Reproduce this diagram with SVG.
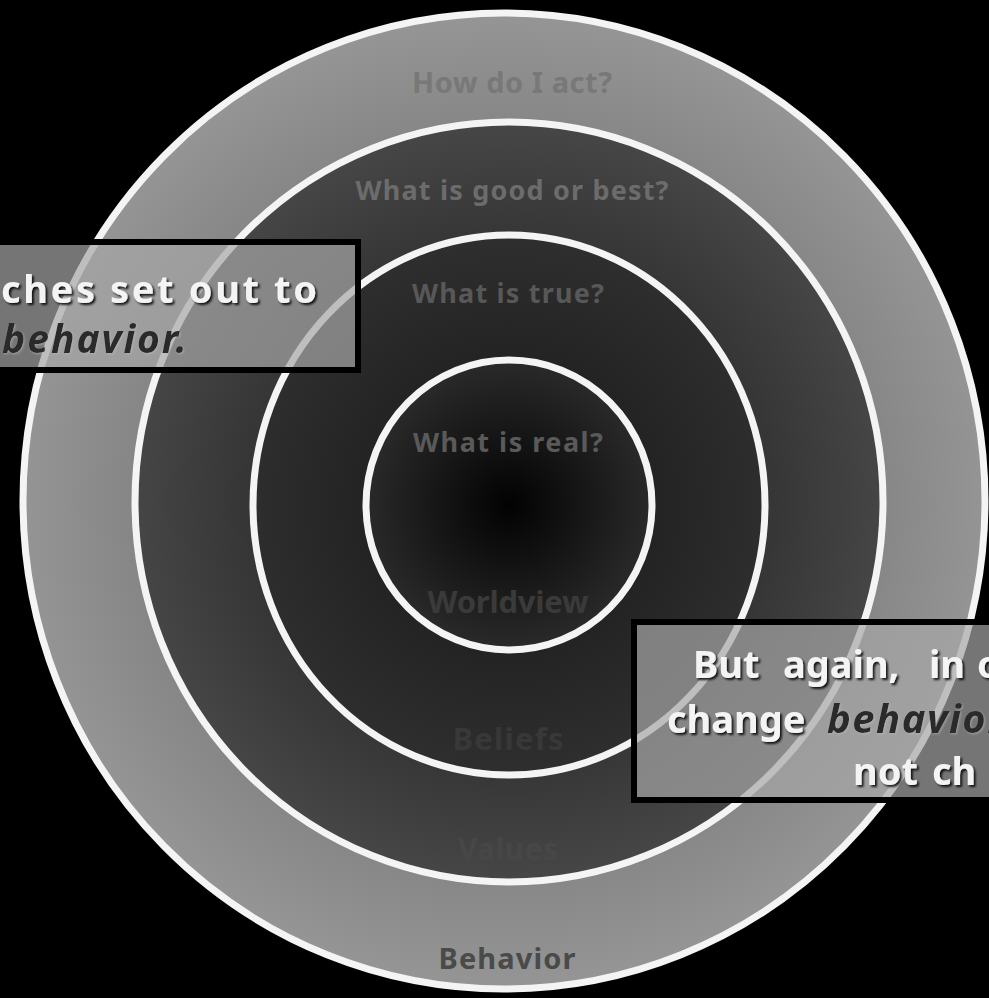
<svg xmlns="http://www.w3.org/2000/svg" width="989" height="998" viewBox="0 0 989 998">
  <style>
    .ring { stroke: #f4f4f4; stroke-width: 7; }
    .lbl { font-family: "Noto Sans", "DejaVu Sans", sans-serif; font-weight: bold; text-anchor: middle; }
    .box { stroke: #000; stroke-width: 6; fill: #a6a6a6; fill-opacity: 0.7; }
    .wt { font-family: "Noto Sans", "DejaVu Sans", sans-serif; font-weight: bold; fill: #f4f4f4; filter: url(#sh); }
    .dk { font-family: "Noto Sans", "DejaVu Sans", sans-serif; font-weight: bold; font-style: italic; fill: #2a2a2a; filter: url(#sh2); }
  </style>
  <defs>
    <radialGradient id="g1" cx="504" cy="501" r="485" gradientUnits="userSpaceOnUse">
      <stop offset="0.75" stop-color="#858585"/>
      <stop offset="1" stop-color="#959595"/>
    </radialGradient>
    <radialGradient id="g2" cx="509" cy="502" r="377" gradientUnits="userSpaceOnUse">
      <stop offset="0.7" stop-color="#363636"/>
      <stop offset="1" stop-color="#464646"/>
    </radialGradient>
    <radialGradient id="g3" cx="509" cy="505" r="263" gradientUnits="userSpaceOnUse">
      <stop offset="0.5" stop-color="#222222"/>
      <stop offset="1" stop-color="#2e2e2e"/>
    </radialGradient>
    <radialGradient id="g4" cx="509" cy="505" r="145" gradientUnits="userSpaceOnUse">
      <stop offset="0" stop-color="#020202"/>
      <stop offset="1" stop-color="#2a2a2a"/>
    </radialGradient>
    <filter id="sh" x="-10%" y="-30%" width="120%" height="160%">
      <feDropShadow dx="2" dy="2" stdDeviation="1.2" flood-color="#000" flood-opacity="0.85"/>
    </filter>
    <filter id="sh2" x="-10%" y="-30%" width="120%" height="160%">
      <feDropShadow dx="1" dy="1" stdDeviation="1" flood-color="#bbbbbb" flood-opacity="0.6"/>
    </filter>
  </defs>
  <rect x="0" y="0" width="989" height="998" fill="#000"/>

  <g id="behavior-ring">
    <ellipse class="ring" cx="504" cy="501" rx="481" ry="488" fill="url(#g1)"/>
    <text class="lbl" x="512" y="93" font-size="29" font-weight="normal" fill="#787878" textLength="200">How do I act?</text>
    <text class="lbl" x="507" y="969" font-size="29" fill="#4a4a4a" textLength="137">Behavior</text>
  </g>
  <g id="values-ring">
    <ellipse class="ring" cx="509" cy="502" rx="374" ry="380" fill="url(#g2)"/>
    <text class="lbl" x="512" y="200" font-size="27" fill="#6c6c6c" textLength="313">What is good or best?</text>
    <text class="lbl" x="508" y="860" font-size="30" fill="#474747" textLength="100">Values</text>
  </g>
  <g id="beliefs-ring">
    <ellipse class="ring" cx="509" cy="505" rx="256" ry="270" fill="url(#g3)"/>
    <text class="lbl" x="508" y="303" font-size="27" fill="#585858" textLength="192">What is true?</text>
    <text class="lbl" x="508" y="750" font-size="31" fill="#383838" textLength="111">Beliefs</text>
  </g>
  <g id="worldview-core">
    <ellipse class="ring" cx="509" cy="505" rx="143" ry="145" fill="url(#g4)"/>
    <text class="lbl" x="508" y="452" font-size="27" fill="#5a5a5a" textLength="190">What is real?</text>
    <text class="lbl" x="508" y="613" font-size="31" fill="#3a3a3a" textLength="161">Worldview</text>
  </g>

  <g id="left-note">
    <rect class="box" x="-10" y="242" width="368" height="128"/>
    <text class="wt" x="1" y="303" font-size="38" textLength="316">ches set out to</text>
    <text class="dk" x="2" y="353" font-size="39" textLength="185">behavior.</text>
  </g>

  <g id="right-note">
    <rect class="box" x="634" y="622" width="370" height="178"/>
    <text class="wt" y="678" font-size="38"><tspan x="693">But</tspan><tspan x="783">again,</tspan><tspan x="929">in</tspan><tspan x="977">o</tspan></text>
    <text y="733" font-size="38"><tspan class="wt" x="667">change</tspan><tspan class="dk" x="827" font-size="40" letter-spacing="1.5">behavior</tspan></text>
    <text class="wt" y="785" font-size="38"><tspan x="853">not</tspan><tspan x="932">ch</tspan></text>
  </g>
</svg>
